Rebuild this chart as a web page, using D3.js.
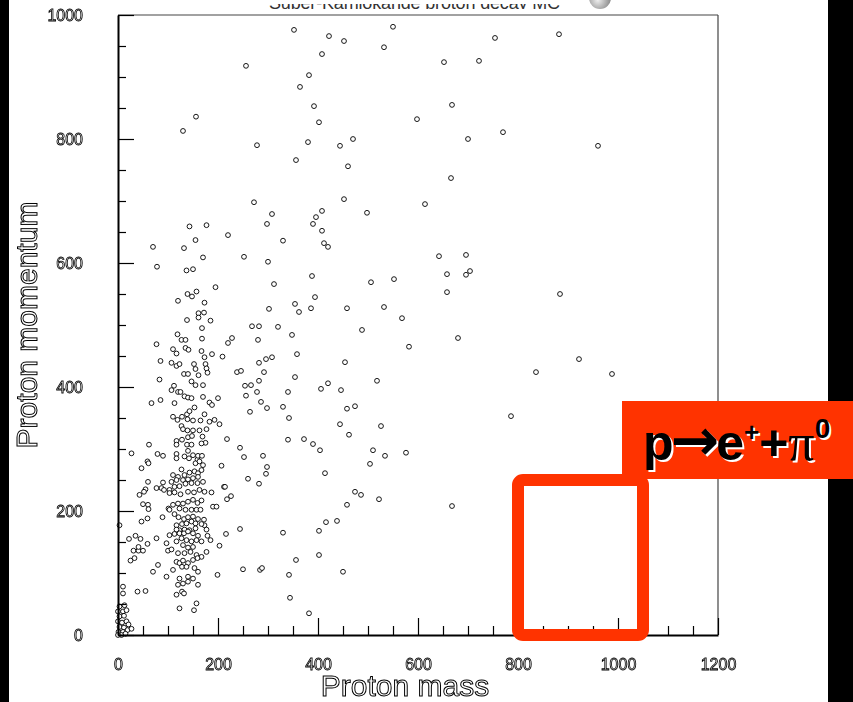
<!DOCTYPE html>
<html>
<head>
<meta charset="utf-8">
<script src="https://cdn.jsdelivr.net/npm/d3@7"></script>
<style>
  html,body{margin:0;padding:0;background:#fff;}
  svg{display:block;}
</style>
</head>
<body>
<svg id="chart" width="853" height="702"></svg>
<script>
// ---------------- data ----------------
const xLabel = "Proton mass";
const yLabel = "Proton momentum";
const xMajorTicks = [0, 200, 400, 600, 800, 1000, 1200];
const yMajorTicks = [0, 200, 400, 600, 800, 1000];
const xDomain = [0, 1200];
const yDomain = [0, 1000];
const signalRegion = {massMin: 800, massMax: 1050, momMin: 0, momMax: 250};
const signalLabel = ["p", "\u2192", "e", "+", "+", "\u03c0", "0"];

// events: [proton mass, proton momentum]
const lowMassCluster = [
 [117,313],[128,315],[140,319],[148,321],[169,320],[175,310],[167,309],[117,307],[138,307],[147,307],[62,307],
 [27,293],[79,292],[90,289],[117,292],[140,297],[150,290],[159,283],[160,289],[168,289],[117,285],[133,288],[142,285],[59,280],[61,277],[47,269],[127,267],[155,277],[163,280],[207,273],[170,274],
 [110,258],[120,255],[133,258],[143,262],[153,264],[160,261],[167,266],[107,247],[117,250],[130,250],[140,251],[150,253],[160,255],[60,247],[90,246],[77,237],[87,237],[92,234],[103,234],[113,239],[123,240],[135,244],[147,245],[159,245],[170,247],[212,239],[55,235],[43,226],[52,231],
 [103,229],[113,230],[125,227],[140,231],[152,230],[163,234],[173,231],[187,230],[50,211],[60,210],[61,203],[101,204],[110,210],[120,212],[130,212],[140,215],[150,218],[159,213],[167,217],[123,204],[135,202],[147,202],[157,202],[165,202],[190,207],[197,207],
 [89,190],[47,183],[59,188],[103,202],[113,195],[121,190],[132,187],[140,190],[150,191],[160,187],[172,186],[173,177],[167,179],[3,177],[117,177],[128,179],[137,180],[147,183],[155,180],[123,169],[133,170],[143,169],[155,172],[117,170],[177,170],
 [22,155],[35,160],[45,155],[77,156],[97,148],[103,161],[113,163],[123,164],[132,164],[140,167],[150,164],[160,160],[179,160],[185,153],[31,136],[41,136],[50,136],[59,147],[100,136],[107,138],[117,151],[127,156],[137,153],[147,151],[157,153],[167,151],[203,144],[130,145],[140,141],[150,142],[41,142],
 [25,120],[33,124],[120,132],[133,132],[145,134],[157,129],[167,126],[177,134],[117,118],[123,116],[130,120],[140,116],[150,121],[159,124],[80,113],[70,102],[128,110],[137,110],[110,105],[153,108],[160,102],
 [97,94],[123,91],[140,94],[130,83],[140,86],[150,91],[120,81],[160,81],[199,97],[10,78],[10,67],[39,70],[55,71],[117,65],[128,70],[132,67],[157,51],[152,40],[123,43],
 [3,46],[13,48],[0,38],[10,38],[17,40],[3,30],[12,31],[0,22],[8,20],[17,22],[21,17],[3,13],[12,12],[1,5],[10,5],[19,8],[27,10],[7,0],[0,0],[15,2]
];
const lowMassUpper = [
 [143,659],[177,661],[155,637],[70,626],[132,624],[170,609],[78,594],[137,588],[150,590],[195,561],[139,550],[148,546],[157,554],[120,539],[173,536],[138,508],[161,519],[172,520],[161,512],[185,507],[168,495],[119,485],[127,476],[135,476],[168,478],[77,469],[110,461],[117,454],[135,463],[141,460],[167,458],[173,448],[188,453],[209,449],[85,442],[107,439],[117,434],[123,437],[132,421],[140,421],[152,437],[155,429],[161,419],[175,437],[177,430],[179,423],[83,412],[147,409],[155,403],[170,403],[107,395],[112,402],[120,392],[125,392],[133,385],[140,383],[147,382],[170,384],[183,375],[188,371],[200,382],[67,374],[85,379],[113,374],[110,352],[119,347],[128,352],[138,356],[143,361],[153,367],[139,348],[150,346],[165,346],[173,356],[183,344],[193,347],[203,340],[127,337],[130,332],[139,330],[150,330],[163,330],[177,332],
 [156,836],[130,813]
];
const midMassHigh = [
 [352,976],[422,966],[452,958],[550,981],[532,948],[408,937],[652,924],[256,918],[382,903],[364,884],[668,855],[392,853],[598,832],[402,827],[700,800],[278,790],[380,795],[444,789],[470,800],[356,766],[460,756],[666,737],[272,698],[452,703],[614,695],[308,679],[298,663],[396,674],[408,684],[390,663],[498,681],[408,652],[220,645],[330,636],[412,632],[420,626],[252,610],[300,602],[642,611],[696,613],[658,582],[696,581],[704,587],[388,579],[312,566],[506,569],[552,574],[658,553],[394,545],[354,534],[362,521],[386,527],[458,527],[532,529],[568,511],[302,526],[268,498],[282,498],[320,497],[488,492]
];
const midMassLow = [
 [680,479],[582,465],[228,479],[220,471],[280,476],[348,484],[358,453],[308,448],[296,445],[282,439],[292,424],[238,424],[246,426],[454,440],[518,410],[354,416],[282,410],[266,403],[254,402],[278,392],[256,386],[340,392],[420,406],[406,397],[446,395],[286,376],[298,366],[264,360],[330,368],[342,350],[458,365],[474,369],[444,340],[526,337],[462,323],[218,316],[340,315],[372,316],[390,308],[404,298],[244,302],[252,287],[290,289],[298,271],[296,260],[260,252],[282,244],[414,261],[510,298],[534,289],[504,276],[576,294],[214,239],[226,224],[218,219],[474,231],[486,226],[522,219],[458,210],[668,208],[416,182],[438,184],[402,168],[244,171],[330,165],[216,163],[402,129],[356,121],[250,106],[284,105],[288,108],[342,97],[450,102],[344,60],[382,35]
];
const highMass = [
 [754,963],[882,969],[722,926],[770,811],[960,789],[884,550],[922,445],[836,424],[988,421],[786,353]
];
const events = [].concat(lowMassCluster, lowMassUpper, midMassHigh, midMassLow, highMass);

// ---------------- drawing ----------------
const W = 853, H = 702;
const plot = {left: 118, right: 718, top: 15, bottom: 635};
const svg = d3.select("#chart");
const x = d3.scaleLinear().domain(xDomain).range([plot.left, plot.right]);
const y = d3.scaleLinear().domain(yDomain).range([plot.bottom, plot.top]);

const defs = svg.append("defs");
// rasterise text through a no-op filter -> grayscale antialiasing
defs.append("filter").attr("id", "flat").attr("x", "-5%").attr("y", "-20%").attr("width", "110%").attr("height", "140%")
  .append("feOffset").attr("dx", 0).attr("dy", 0);

svg.append("rect").attr("width", W).attr("height", H).attr("fill", "#fff");
// black borders of the slide
svg.append("rect").attr("x", 0).attr("y", 0).attr("width", 9).attr("height", H).attr("fill", "#000");
svg.append("rect").attr("x", 828).attr("y", 0).attr("width", W - 828).attr("height", H).attr("fill", "#000");

// clipped title fragment at the very top (only the bottoms of its glyphs are visible)
defs.append("clipPath").attr("id", "topclip")
  .append("rect").attr("x", 0).attr("y", 4).attr("width", W).attr("height", 5);
svg.append("text")
  .attr("clip-path", "url(#topclip)")
  .attr("x", 269).attr("y", 9)
  .attr("textLength", 291).attr("lengthAdjust", "spacing")
  .attr("font-family", "Liberation Sans, Arial, sans-serif")
  .attr("font-size", 18).attr("fill", "#333")
  .text("Super-Kamiokande proton decay MC");
const grad = defs.append("radialGradient").attr("id", "ball")
  .attr("cx", "40%").attr("cy", "60%").attr("r", "60%");
grad.append("stop").attr("offset", "0%").attr("stop-color", "#eee");
grad.append("stop").attr("offset", "100%").attr("stop-color", "#888");
svg.append("circle").attr("cx", 600).attr("cy", -2).attr("r", 11).attr("fill", "url(#ball)");

// frame (top and right)
svg.append("line").attr("x1", plot.left).attr("x2", plot.right).attr("y1", plot.top).attr("y2", plot.top)
  .attr("stroke", "#444").attr("stroke-width", 1.2);
svg.append("line").attr("x1", plot.right).attr("x2", plot.right).attr("y1", plot.top).attr("y2", plot.bottom)
  .attr("stroke", "#444").attr("stroke-width", 1.2);

// points
svg.append("g").selectAll("circle").data(events).join("circle")
  .attr("cx", d => x(d[0]))
  .attr("cy", d => y(d[1]))
  .attr("r", 2.4)
  .attr("fill", "#fff")
  .attr("stroke", "#000")
  .attr("stroke-width", 0.9);

const tickFont = "Liberation Sans, Arial, Helvetica, sans-serif";
function styleTicks(g) {
  g.select(".domain").attr("stroke", "#000").attr("stroke-width", 2);
  g.selectAll(".tick line").attr("stroke", "#000").attr("stroke-width", 1.2);
  g.selectAll(".tick text")
    .attr("font-family", tickFont).attr("font-size", 16)
    .attr("fill", "#fff").attr("stroke", "#000").attr("stroke-width", 0.8)
    .attr("filter", "url(#flat)");
}

// minor ticks
const xMinor = d3.range(0, 1201, 50).filter(v => !xMajorTicks.includes(v));
const yMinor = d3.range(0, 1001, 50).filter(v => !yMajorTicks.includes(v));
svg.append("g").attr("transform", `translate(0,${plot.bottom})`)
  .call(d3.axisBottom(x).tickValues(xMinor).tickSizeInner(-9).tickSizeOuter(0).tickFormat(""))
  .call(g => { g.select(".domain").remove(); g.selectAll(".tick line").attr("stroke", "#000").attr("stroke-width", 1.2); });
svg.append("g").attr("transform", `translate(${plot.left},0)`)
  .call(d3.axisLeft(y).tickValues(yMinor).tickSizeInner(-8).tickSizeOuter(0).tickFormat(""))
  .call(g => { g.select(".domain").remove(); g.selectAll(".tick line").attr("stroke", "#000").attr("stroke-width", 1.2); });

// major axes
svg.append("g").attr("transform", `translate(0,${plot.bottom})`)
  .call(d3.axisBottom(x).tickValues(xMajorTicks).tickSizeInner(-17).tickSizeOuter(0).tickPadding(24).tickFormat(d3.format("d")))
  .call(styleTicks);
svg.append("g").attr("transform", `translate(${plot.left},0)`)
  .call(d3.axisLeft(y).tickValues(yMajorTicks).tickSizeInner(-16).tickSizeOuter(0).tickPadding(35).tickFormat(d3.format("d")))
  .call(styleTicks);

// axis titles (outlined text)
svg.append("text")
  .attr("x", 405).attr("y", 696).attr("text-anchor", "middle")
  .attr("font-family", tickFont).attr("font-size", 30)
  .attr("fill", "#fff").attr("stroke", "#000").attr("stroke-width", 1)
  .attr("filter", "url(#flat)")
  .text(xLabel);
svg.append("text")
  .attr("transform", "translate(37,325) rotate(-90)")
  .attr("text-anchor", "middle")
  .attr("font-family", tickFont).attr("font-size", 30)
  .attr("fill", "#fff").attr("stroke", "#000").attr("stroke-width", 1)
  .attr("filter", "url(#flat)")
  .text(yLabel);

// signal region box
const red = "#ff3300";
svg.append("rect")
  .attr("x", x(signalRegion.massMin)).attr("y", y(signalRegion.momMax))
  .attr("width", x(signalRegion.massMax) - x(signalRegion.massMin))
  .attr("height", y(signalRegion.momMin) - y(signalRegion.momMax))
  .attr("rx", 5).attr("fill", "none").attr("stroke", red).attr("stroke-width", 12);

// label box
svg.append("rect").attr("x", 622).attr("y", 401).attr("width", W - 622).attr("height", 78).attr("fill", red);
function labelText(dx, dy, color) {
  const t = svg.append("text").attr("x", 643 + dx).attr("y", 460 + dy)
    .attr("font-family", "Liberation Sans, Arial, sans-serif").attr("font-weight", "bold")
    .attr("font-size", 50).attr("fill", color);
  t.append("tspan").text(signalLabel[0]);
  t.append("tspan").attr("font-family", "DejaVu Sans, sans-serif").attr("font-size", 58).attr("dx", -3).text(signalLabel[1]);
  t.append("tspan").attr("dx", -3).text(signalLabel[2]);
  t.append("tspan").attr("font-size", 26).attr("dy", -19).text(signalLabel[3]);
  t.append("tspan").attr("dy", 19).text(signalLabel[4]);
  t.append("tspan").attr("font-family", "Liberation Serif, Times New Roman, serif").attr("font-weight", "normal").attr("font-size", 52).text(signalLabel[5]);
  t.append("tspan").attr("font-size", 28).attr("dy", -22).text(signalLabel[6]);
}
labelText(2, 2, "#fff");
labelText(0, 0, "#000");
</script>
</body>
</html>
